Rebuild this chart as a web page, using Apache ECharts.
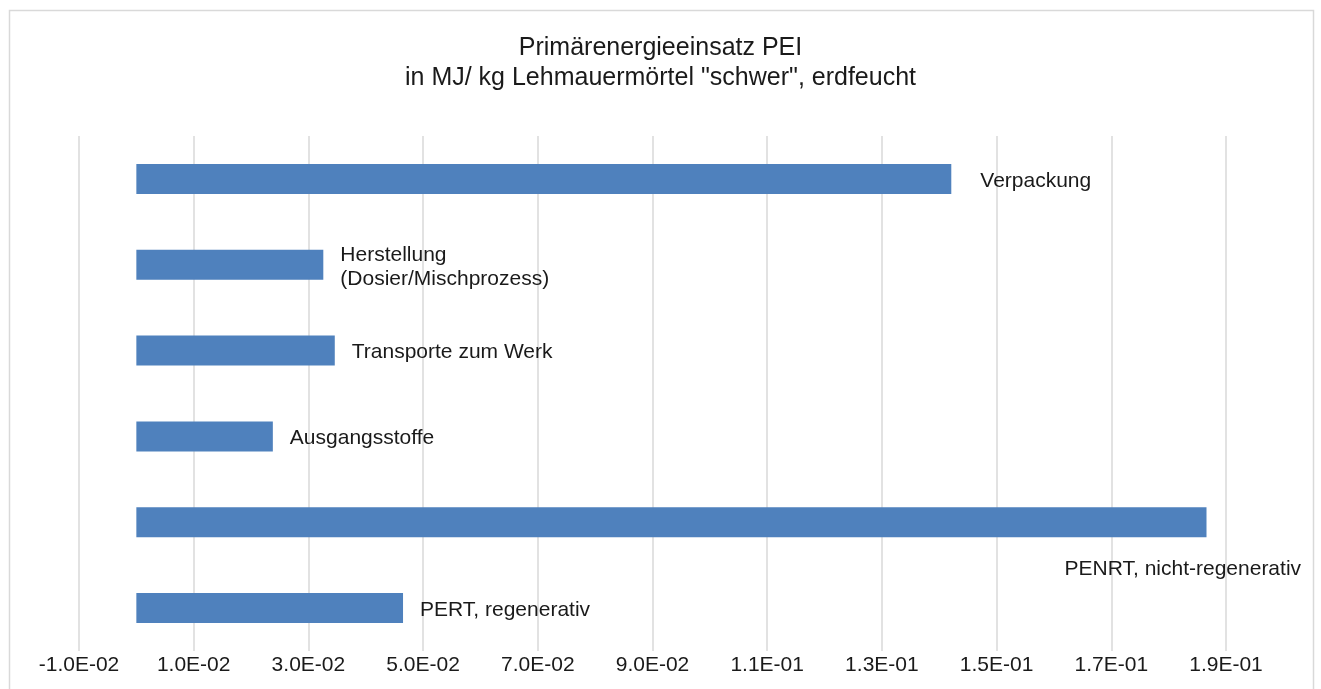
<!DOCTYPE html>
<html>
<head>
<meta charset="utf-8">
<script src="https://cdn.jsdelivr.net/npm/echarts@6/dist/echarts.min.js"></script>
<style>
  html, body { margin: 0; padding: 0; background: #fff; }
  #main { width: 1321px; height: 689px; }
</style>
</head>
<body>
<div id="main"></div>
<script>
// categories from bottom to top
var categories = [
    'PERT, regenerativ',
    'PENRT, nicht-regenerativ',
    'Ausgangsstoffe',
    'Transporte zum Werk',
    'Herstellung\n(Dosier/Mischprozess)',
    'Verpackung'
];
var values = [0.0465, 0.1866, 0.0238, 0.0346, 0.0326, 0.1421];

var xMin = -0.01;
var xMax = 0.19;
var xStep = 0.02;

// Excel style scientific labels, e.g. 1.0E-02
function sciLabel(v) {
    var s = Number(v).toExponential(1).toUpperCase();
    var parts = s.split('E');
    var exp = parseInt(parts[1], 10);
    var sign = exp < 0 ? '-' : '+';
    var e = Math.abs(exp);
    return parts[0] + 'E' + sign + (e < 10 ? '0' + e : e);
}

var dom = document.getElementById('main');
var chart = echarts.init(dom);

var barData = values.map(function (v, i) {
    var item = { value: v };
    if (i === 1) {
        // label under the long bar
        item.label = { offset: [-159, 47] };
    } else if (i === 5) {
        item.label = { distance: 29 };
    }
    return item;
});

var option = {
    backgroundColor: '#ffffff',
    animation: false,
    title: {
        text: 'Primärenergieeinsatz PEI\nin MJ/ kg Lehmauermörtel "schwer", erdfeucht',
        left: 'center',
        top: 28,
        textStyle: {
            fontFamily: 'Liberation Sans, Arial, sans-serif',
            fontSize: 25,
            fontWeight: 'normal',
            color: '#1a1a1a',
            lineHeight: 30
        }
    },
    graphic: [{
        type: 'rect',
        shape: { x: 9.5, y: 10.5, width: 1304, height: 700, r: 0 },
        style: { fill: 'none', stroke: '#d9d9d9', lineWidth: 1.5 },
        silent: true,
        z: -1
    }],
    grid: {
        left: 79,
        right: 95,
        top: 136,
        bottom: 38,
        containLabel: false
    },
    xAxis: {
        type: 'value',
        min: xMin,
        max: xMax,
        interval: xStep,
        axisLine: { show: false },
        axisTick: { show: false },
        splitLine: { show: true, lineStyle: { color: '#d9d9d9', width: 1.5 } },
        axisLabel: {
            formatter: sciLabel,
            fontFamily: 'Liberation Sans, Arial, sans-serif',
            fontSize: 21,
            color: '#1a1a1a',
            margin: 4
        }
    },
    yAxis: {
        type: 'category',
        data: categories,
        axisLine: { show: false },
        axisTick: { show: false },
        axisLabel: { show: false },
        splitLine: { show: false }
    },
    series: [{
        type: 'bar',
        data: barData,
        barWidth: 30,
        itemStyle: { color: '#4f81bd' },
        label: {
            show: true,
            position: 'right',
            distance: 17,
            offset: [0, 2],
            formatter: function (p) { return categories[p.dataIndex]; },
            fontFamily: 'Liberation Sans, Arial, sans-serif',
            fontSize: 21,
            lineHeight: 24,
            color: '#1a1a1a'
        }
    }]
};

if (option && typeof option === 'object') {
    chart.setOption(option, true);
}
window.onresize = function () {
    chart.resize();
};
</script>
</body>
</html>
